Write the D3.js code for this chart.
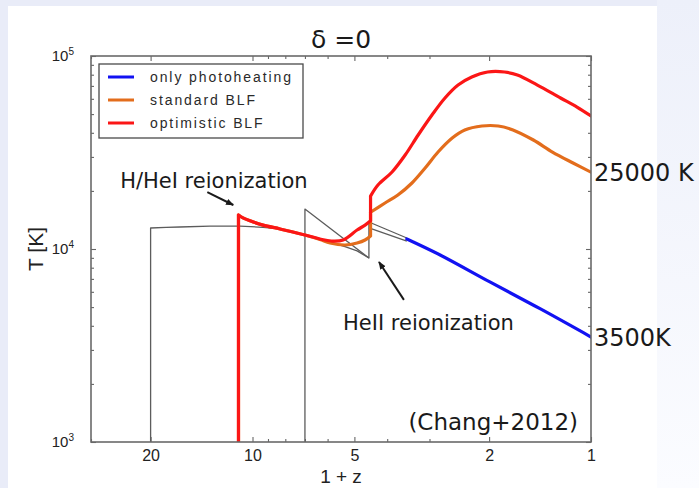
<!DOCTYPE html>
<html>
<head>
<meta charset="utf-8">
<script src="https://cdn.jsdelivr.net/npm/d3@7"></script>
<style>
  body { margin: 0; background: #ffffff; }
  svg { display: block; font-family: "Liberation Sans", Arial, sans-serif; }
</style>
</head>
<body>
<svg id="chart" width="699" height="488"></svg>
<script>
// Temperature history of the IGM at mean density, T [K] against 1+z.

// optimistic blazar heating
const redZ = [11, 11, 10.67, 10.17, 9.31, 8.29, 7.0, 6.32, 5.85, 5.4, 4.91, 4.65, 4.48, 4.48, 4.26, 3.87, 3.54, 3.24, 2.95, 2.7, 2.47, 2.25, 2.02, 1.8, 1.65, 1.44, 1.23, 1.1, 1.0];
const redT = [1000, 15000, 14500, 14000, 13300, 12700, 11820, 11270, 11000, 11130, 12540, 13300, 14000, 18800, 21460, 25060, 30690, 38970, 49470, 60600, 70730, 77840, 82610, 82610, 79700, 70700, 60600, 54400, 48900];

// standard blazar heating
const orangeZ = [11, 11, 10.67, 10.17, 9.31, 8.29, 7.0, 6.32, 5.9, 5.33, 4.91, 4.65, 4.48, 4.48, 4.06, 3.72, 3.38, 3.09, 2.83, 2.57, 2.36, 2.1, 1.88, 1.7, 1.48, 1.3, 1.13, 1.0];
const orangeT = [1000, 15000, 14500, 14000, 13300, 12700, 11820, 11200, 10740, 10490, 10740, 11130, 11680, 15500, 17310, 19050, 21980, 26290, 31810, 37590, 41370, 43390, 43390, 41400, 36700, 31800, 27900, 25000];

// photoheating only
const blueZ = [3.5, 2.79, 1.99, 1.41, 1.0];
const blueT = [11270, 9310, 6750, 4890, 3500];

// reference histories (thin grey)
const greyAZ = [20, 20, 18, 16.4, 13.35, 10.89, 9.31, 8.29, 7.0, 5.9, 5.33, 4.91, 4.53, 4.53, 3.5];
const greyAT = [1000, 12850, 12950, 13000, 13150, 13150, 12950, 12700, 11820, 10870, 10300, 9780, 8980, 13800, 11400];
const greyBZ = [7.0, 7.0, 4.53];
const greyBT = [1000, 16100, 8980];
const greyCZ = [4.53, 3.5];
const greyCT = [12850, 11000];

// axis ticks
const xMajor = [20, 10, 5, 2, 1];
const xMinor = [30, 9, 8, 7, 6, 4, 3];
const yMajor = [1e3, 1e4, 1e5];
const yMinor = [2e3, 3e3, 4e3, 5e3, 6e3, 7e3, 8e3, 9e3, 2e4, 3e4, 4e4, 5e4, 6e4, 7e4, 8e4, 9e4];
const yExponents = [3, 4, 5];

const legendLabels = ["only photoheating", "standard BLF", "optimistic BLF"];
const endLabels = ["25000 K", "3500K"];
const endTemps = [25000, 3500];

const colBlue = "#1212f2", colOrange = "#e36d1c", colRed = "#fb1616", colGrey = "#5c5c5c";
const legendColors = [colBlue, colOrange, colRed];

const W = 699, H = 488;
const m = { left: 91, top: 56, right: 108, bottom: 46 };
const iw = W - m.left - m.right, ih = H - m.top - m.bottom;

const svg = d3.select("#chart");

// slide background
const defs = svg.append("defs");
const bgGrad = defs.append("linearGradient").attr("id", "bgfade")
  .attr("x1", 0).attr("y1", 0).attr("x2", 0).attr("y2", 1);
bgGrad.append("stop").attr("offset", "0").attr("stop-color", "#edf0fa");
bgGrad.append("stop").attr("offset", "1").attr("stop-color", "#fbfcff");
svg.append("rect").attr("width", W).attr("height", H).attr("fill", "#e9ecf8");
svg.append("rect").attr("x", 657).attr("y", 0).attr("width", W - 657).attr("height", H).attr("fill", "url(#bgfade)");
svg.append("rect").attr("x", 8).attr("y", 6).attr("width", 649).attr("height", H - 6).attr("fill", "#ffffff");

defs.append("clipPath").attr("id", "plotclip").append("rect")
  .attr("x", m.left).attr("y", m.top).attr("width", iw).attr("height", ih);
defs.append("marker").attr("id", "head")
  .attr("viewBox", "0 0 10 10").attr("refX", 9).attr("refY", 5)
  .attr("markerWidth", 4).attr("markerHeight", 4).attr("orient", "auto")
  .append("path").attr("d", "M0,1 L10,5 L0,9 Z").attr("fill", "#1a1a1a");

const x = d3.scaleLog().domain([30, 1]).range([m.left, m.left + iw]);
const y = d3.scaleLog().domain([1e3, 1e5]).range([m.top + ih, m.top]);

// axes with inward ticks on all four sides
function styleAxis(g) {
  g.select(".domain").remove();
  g.selectAll(".tick line").attr("stroke", "#666").attr("stroke-width", 1.1);
}
const fmtX = d => String(d);
svg.append("g").attr("transform", `translate(0,${m.top + ih})`)
  .call(d3.axisBottom(x).tickValues(xMajor).tickFormat(fmtX).tickSize(-5).tickPadding(8))
  .call(styleAxis)
  .selectAll("text").attr("font-size", 16).attr("fill", "#222")
  .attr("font-family", "Liberation Sans, Arial, sans-serif");
svg.append("g").attr("transform", `translate(0,${m.top + ih})`)
  .call(d3.axisBottom(x).tickValues(xMinor).tickFormat("").tickSize(-3)).call(styleAxis);
svg.append("g").attr("transform", `translate(0,${m.top})`)
  .call(d3.axisTop(x).tickValues(xMajor).tickFormat("").tickSize(-5)).call(styleAxis);
svg.append("g").attr("transform", `translate(0,${m.top})`)
  .call(d3.axisTop(x).tickValues(xMinor).tickFormat("").tickSize(-3)).call(styleAxis);

const yLeft = svg.append("g").attr("transform", `translate(${m.left},0)`)
  .call(d3.axisLeft(y).tickValues(yMajor).tickFormat("").tickSize(-5).tickPadding(9))
  .call(styleAxis);
yLeft.selectAll(".tick text").each(function(d, i) {
  const t = d3.select(this).attr("fill", "#222").attr("font-size", 15).attr("dy", "0.3em").attr("dx", "-8");
  t.append("tspan").text("10");
  t.append("tspan").attr("font-size", 10).attr("dy", "-0.6em").text(yExponents[i]);
});
svg.append("g").attr("transform", `translate(${m.left},0)`)
  .call(d3.axisLeft(y).tickValues(yMinor).tickFormat("").tickSize(-3)).call(styleAxis);
svg.append("g").attr("transform", `translate(${m.left + iw},0)`)
  .call(d3.axisRight(y).tickValues(yMajor).tickFormat("").tickSize(-5)).call(styleAxis);
svg.append("g").attr("transform", `translate(${m.left + iw},0)`)
  .call(d3.axisRight(y).tickValues(yMinor).tickFormat("").tickSize(-3)).call(styleAxis);

// curves: smooth between samples, straight across the reionization jumps
const plot = svg.append("g").attr("clip-path", "url(#plotclip)");
const lineSmooth = d3.line().x(d => x(d[0])).y(d => y(d[1])).curve(d3.curveCatmullRom.alpha(0.5));
const lineStraight = d3.line().x(d => x(d[0])).y(d => y(d[1]));
const pairs = (zs, ts) => zs.map((z, i) => [z, ts[i]]);

function steppedPath(pts) {
  let d = "", run = [pts[0]];
  for (let i = 1; i < pts.length; i++) {
    if (pts[i][0] === pts[i - 1][0]) {
      if (run.length > 1) d += lineSmooth(run);
      d += lineStraight([pts[i - 1], pts[i]]);
      run = [pts[i]];
    } else {
      run.push(pts[i]);
    }
  }
  if (run.length > 1) d += lineSmooth(run);
  return d;
}

[[greyAZ, greyAT], [greyBZ, greyBT], [greyCZ, greyCT]].forEach(([zs, ts]) => {
  plot.append("path").attr("d", lineStraight(pairs(zs, ts)))
    .attr("fill", "none").attr("stroke", colGrey).attr("stroke-width", 1.3)
    .attr("stroke-linejoin", "round");
});
[[blueZ, blueT, colBlue], [orangeZ, orangeT, colOrange], [redZ, redT, colRed]].forEach(([zs, ts, c]) => {
  plot.append("path").attr("d", steppedPath(pairs(zs, ts)))
    .attr("fill", "none").attr("stroke", c).attr("stroke-width", 3.2)
    .attr("stroke-linejoin", "round").attr("stroke-linecap", "round");
});

// frame
svg.append("rect").attr("x", m.left).attr("y", m.top).attr("width", iw).attr("height", ih)
  .attr("fill", "none").attr("stroke", "#6a6a6a").attr("stroke-width", 1.6);

// legend
const lg = svg.append("g").attr("transform", `translate(${m.left + 8},${m.top + 8})`);
lg.append("rect").attr("width", 204).attr("height", 74).attr("fill", "#fff")
  .attr("stroke", "#4a4a4a").attr("stroke-width", 1.3);
legendLabels.forEach((lab, i) => {
  const yy = 13 + i * 23;
  lg.append("line").attr("x1", 9).attr("x2", 35).attr("y1", yy).attr("y2", yy)
    .attr("stroke", legendColors[i]).attr("stroke-width", 3);
  lg.append("text").attr("x", 51).attr("y", yy).attr("dy", "0.35em")
    .attr("font-size", 14).attr("letter-spacing", "1.9px").attr("fill", "#2a2a2a").text(lab);
});

// end-point labels at z = 0
endLabels.forEach((lab, i) => {
  svg.append("text").attr("x", m.left + iw + 3).attr("y", y(endTemps[i])).attr("dy", "0.36em")
    .attr("font-family", "DejaVu Sans, sans-serif").attr("font-size", 24).attr("fill", "#1a1a1a").text(lab);
});

// annotations
const annFont = "DejaVu Sans, sans-serif";
svg.append("text").attr("x", x(24.6)).attr("y", y(20700))
  .attr("font-family", annFont).attr("font-size", 21).attr("fill", "#1a1a1a").text("H/HeI reionization");
svg.append("line").attr("x1", x(13.6)).attr("y1", y(19700)).attr("x2", x(11.4)).attr("y2", y(16900))
  .attr("stroke", "#1a1a1a").attr("stroke-width", 2).attr("marker-end", "url(#head)");
svg.append("text").attr("x", x(5.4)).attr("y", y(3800))
  .attr("font-family", annFont).attr("font-size", 21).attr("fill", "#1a1a1a").text("HeII reionization");
svg.append("line").attr("x1", x(3.57)).attr("y1", y(5450)).attr("x2", x(4.23)).attr("y2", y(8570))
  .attr("stroke", "#1a1a1a").attr("stroke-width", 2).attr("marker-end", "url(#head)");
svg.append("text").attr("x", x(1.092)).attr("y", y(1154)).attr("text-anchor", "end")
  .attr("font-family", annFont).attr("font-size", 23).attr("fill", "#1a1a1a").text("(Chang+2012)");

// title and axis labels
svg.append("text").attr("x", m.left + iw / 2).attr("y", 48).attr("text-anchor", "middle")
  .attr("font-family", annFont).attr("font-size", 25).attr("fill", "#1a1a1a").text("δ =0");
svg.append("text").attr("x", m.left + iw / 2).attr("y", 483).attr("text-anchor", "middle")
  .attr("font-size", 19).attr("fill", "#222").text("1 + z");
svg.append("text").attr("transform", `translate(43,${m.top + ih / 2}) rotate(-90)`)
  .attr("text-anchor", "middle").attr("font-size", 21).attr("fill", "#222").text("T [K]");
</script>
</body>
</html>
